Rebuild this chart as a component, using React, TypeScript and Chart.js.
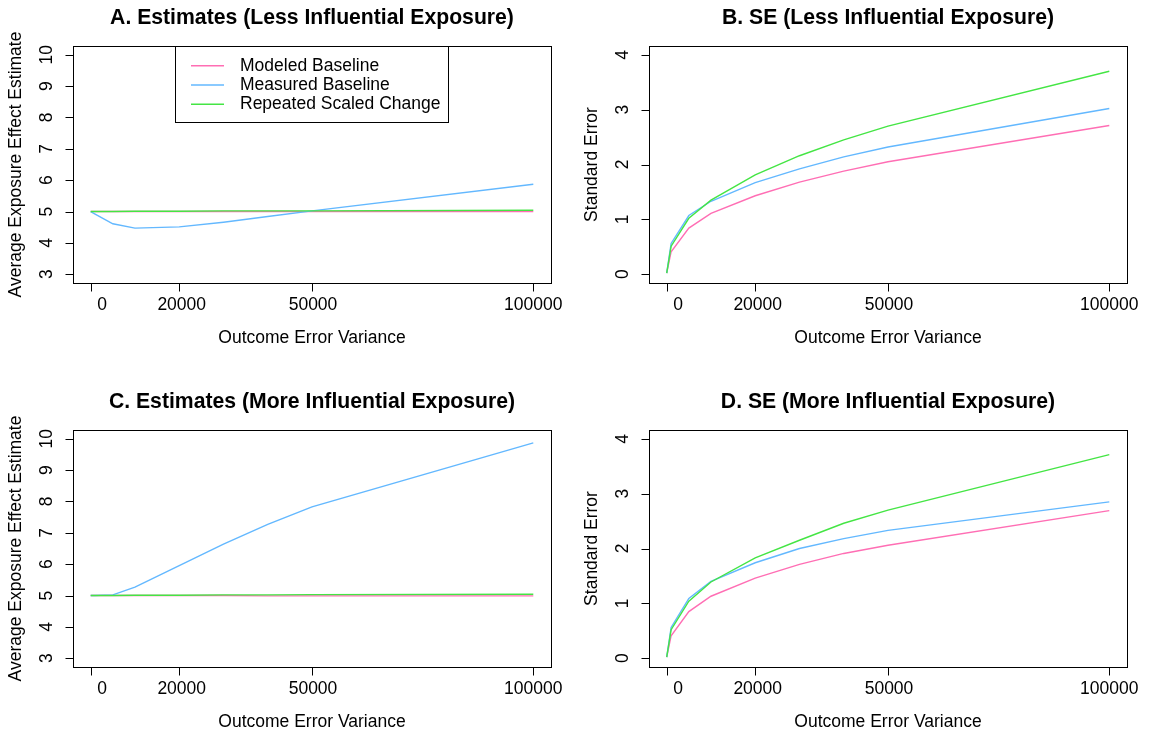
import React, { useEffect, useRef } from 'react';
import { Chart, registerables } from 'chart.js';
Chart.register(...registerables);

// ---------- data ----------
const errorVariance = [0, 1000, 5000, 10000, 20000, 30000, 40000, 50000, 100000];
const xTicks = [0, 20000, 50000, 100000];
const estTicks = [3, 4, 5, 6, 7, 8, 9, 10];
const seTicks = [0, 1, 2, 3, 4];
const seriesNames = ['Modeled Baseline', 'Measured Baseline', 'Repeated Scaled Change'];

// A. Estimates (Less Influential Exposure)
const modeledA = [5.0, 5.0, 5.0, 5.0, 5.0, 5.0, 5.0, 5.0, 5.0];
const measuredA = [5.0, 4.92, 4.61, 4.47, 4.51, 4.66, 4.84, 5.02, 5.87];
const repeatedA = [5.0, 5.0, 5.0, 5.01, 5.01, 5.02, 5.02, 5.02, 5.04];

// B. SE (Less Influential Exposure)
const modeledB = [0.02, 0.41, 0.84, 1.11, 1.43, 1.68, 1.88, 2.05, 2.71];
const measuredB = [0.02, 0.56, 1.07, 1.33, 1.67, 1.92, 2.14, 2.32, 3.02];
const repeatedB = [0.02, 0.51, 1.02, 1.35, 1.81, 2.16, 2.45, 2.7, 3.7];

// C. Estimates (More Influential Exposure)
const modeledC = [5.0, 5.0, 5.0, 5.0, 5.0, 5.0, 4.99, 4.99, 4.99];
const measuredC = [5.0, 5.0, 5.02, 5.27, 5.95, 6.64, 7.27, 7.83, 9.87];
const repeatedC = [5.0, 5.0, 5.0, 5.01, 5.01, 5.02, 5.02, 5.03, 5.04];

// D. SE (More Influential Exposure)
const modeledD = [0.02, 0.41, 0.85, 1.13, 1.46, 1.71, 1.91, 2.06, 2.69];
const measuredD = [0.02, 0.56, 1.09, 1.4, 1.74, 2.0, 2.18, 2.33, 2.85];
const repeatedD = [0.02, 0.52, 1.04, 1.39, 1.83, 2.15, 2.46, 2.7, 3.71];

// ---------- style / layout ----------
const W = 1149;
const H = 735;
const FONT = '"Liberation Sans", Arial, Helvetica, sans-serif';
const BASE = 17.5;
const TITLE = 21.2;
const COLORS = ['#FF6EB4', '#63B8FF', '#44E544'];
const X_LABEL_SHIFT = [11.5, 2.5, 1, 0];

type Panel = {
  title: string;
  ylabel: string;
  series: number[][];
  yTicks: number[];
  yMin: number;
  yMax: number;
  box: { left: number; top: number; right: number; bottom: number };
  legend: boolean;
};

const panels: Panel[] = [
  {
    title: 'A. Estimates (Less Influential Exposure)',
    ylabel: 'Average Exposure Effect Estimate',
    series: [modeledA, measuredA, repeatedA],
    yTicks: estTicks, yMin: 2.72, yMax: 10.28,
    box: { left: 73, top: 46, right: 551, bottom: 283 },
    legend: true,
  },
  {
    title: 'B. SE (Less Influential Exposure)',
    ylabel: 'Standard Error',
    series: [modeledB, measuredB, repeatedB],
    yTicks: seTicks, yMin: -0.16, yMax: 4.16,
    box: { left: 649, top: 46, right: 1127, bottom: 283 },
    legend: false,
  },
  {
    title: 'C. Estimates (More Influential Exposure)',
    ylabel: 'Average Exposure Effect Estimate',
    series: [modeledC, measuredC, repeatedC],
    yTicks: estTicks, yMin: 2.72, yMax: 10.28,
    box: { left: 73, top: 430, right: 551, bottom: 667 },
    legend: false,
  },
  {
    title: 'D. SE (More Influential Exposure)',
    ylabel: 'Standard Error',
    series: [modeledD, measuredD, repeatedD],
    yTicks: seTicks, yMin: -0.16, yMax: 4.16,
    box: { left: 649, top: 430, right: 1127, bottom: 667 },
    legend: false,
  },
];

function rPlugin(p: Panel) {
  return {
    id: 'rbase',
    afterDraw(chart: any) {
      const ctx: CanvasRenderingContext2D = chart.ctx;
      const { left, top, right, bottom } = chart.chartArea;
      const xs = chart.scales.x;
      const ys = chart.scales.y;
      ctx.save();
      ctx.strokeStyle = '#000';
      ctx.fillStyle = '#000';
      ctx.lineWidth = 1;
      // box
      ctx.strokeRect(Math.round(left) + 0.5, Math.round(top) + 0.5, Math.round(right - left), Math.round(bottom - top));
      const by = Math.round(bottom) + 0.5;
      const bx = Math.round(left) + 0.5;
      // x axis
      const xp = xTicks.map((v) => xs.getPixelForValue(v));
      ctx.beginPath();
      ctx.moveTo(Math.round(xp[0]) + 0.5, by);
      ctx.lineTo(Math.round(xp[xp.length - 1]) + 0.5, by);
      xp.forEach((px) => {
        ctx.moveTo(Math.round(px) + 0.5, by);
        ctx.lineTo(Math.round(px) + 0.5, by + 8);
      });
      // y axis
      const yp = p.yTicks.map((v) => ys.getPixelForValue(v));
      ctx.moveTo(bx, Math.round(yp[0]) + 0.5);
      ctx.lineTo(bx, Math.round(yp[yp.length - 1]) + 0.5);
      yp.forEach((py) => {
        ctx.moveTo(bx, Math.round(py) + 0.5);
        ctx.lineTo(bx - 8, Math.round(py) + 0.5);
      });
      ctx.stroke();

      ctx.font = `${BASE}px ${FONT}`;
      ctx.textAlign = 'center';
      ctx.textBaseline = 'middle';
      xTicks.forEach((v, i) => {
        ctx.fillText(String(v), xp[i] + X_LABEL_SHIFT[i], bottom + 22);
      });
      p.yTicks.forEach((v, i) => {
        ctx.save();
        ctx.translate(left - 26, yp[i]);
        ctx.rotate(-Math.PI / 2);
        ctx.fillText(String(v), 0, 0);
        ctx.restore();
      });
      // axis titles
      ctx.fillText('Outcome Error Variance', (left + right) / 2, bottom + 55);
      ctx.save();
      ctx.translate(left - 57, (top + bottom) / 2);
      ctx.rotate(-Math.PI / 2);
      ctx.fillText(p.ylabel, 0, 0);
      ctx.restore();
      // main title
      ctx.font = `bold ${TITLE}px ${FONT}`;
      ctx.fillText(p.title, (left + right) / 2, top - 28);

      // legend
      if (p.legend) {
        const lx = 175.5, ly = 46.5, lw = 273, lh = 76;
        ctx.fillStyle = '#fff';
        ctx.fillRect(lx, ly, lw, lh);
        ctx.strokeStyle = '#000';
        ctx.lineWidth = 1;
        ctx.strokeRect(lx, ly, lw, lh);
        ctx.font = `${BASE}px ${FONT}`;
        ctx.textAlign = 'left';
        seriesNames.forEach((name, i) => {
          const ry = 65.7 + i * 19.3;
          ctx.strokeStyle = COLORS[i];
          ctx.lineWidth = 1.4;
          ctx.beginPath();
          ctx.moveTo(191, ry);
          ctx.lineTo(224, ry);
          ctx.stroke();
          ctx.fillStyle = '#000';
          ctx.fillText(name, 240, ry);
        });
      }
      ctx.restore();
    },
  };
}

function PanelChart({ p }: { p: Panel }) {
  const ref = useRef<HTMLCanvasElement>(null);
  useEffect(() => {
    if (!ref.current) return;
    const chart = new Chart(ref.current, {
      type: 'line',
      data: {
        datasets: p.series.map((vals, i) => ({
          label: seriesNames[i],
          data: errorVariance.map((x, j) => ({ x, y: vals[j] })),
          borderColor: COLORS[i],
          backgroundColor: COLORS[i],
          borderWidth: 1.4,
          pointRadius: 0,
          tension: 0,
          fill: false,
          order: 3 - i,
        })),
      },
      options: {
        responsive: false,
        animation: false,
        events: [],
        layout: {
          padding: {
            left: p.box.left,
            top: p.box.top,
            right: W - p.box.right,
            bottom: H - p.box.bottom,
          },
        },
        plugins: { legend: { display: false }, tooltip: { enabled: false }, title: { display: false } },
        scales: {
          x: { type: 'linear', min: -4000, max: 104000, display: false },
          y: { type: 'linear', min: p.yMin, max: p.yMax, display: false },
        },
      },
      plugins: [rPlugin(p)],
    } as any);
    return () => chart.destroy();
  }, [p]);
  return (
    <canvas
      ref={ref}
      width={W}
      height={H}
      style={{ position: 'absolute', left: 0, top: 0, width: W, height: H }}
    />
  );
}

export default function App() {
  return (
    <div style={{ position: 'absolute', left: 0, top: 0, width: W, height: H, background: '#fff' }}>
      {panels.map((p, i) => (
        <PanelChart key={i} p={p} />
      ))}
    </div>
  );
}
